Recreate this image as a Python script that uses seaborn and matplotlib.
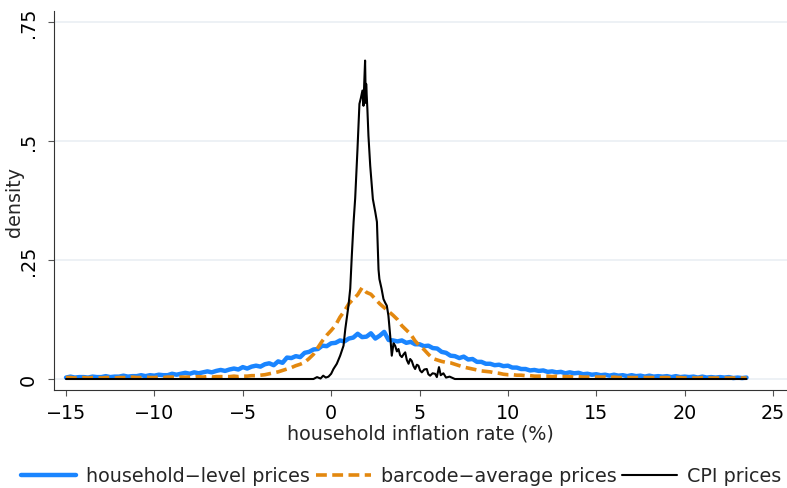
import numpy as np
import matplotlib
matplotlib.use("Agg")
import matplotlib.pyplot as plt
import seaborn as sns

# household-level prices, read at 0.25 steps from -15 to 23.5
household_start = -15.0
household_step = 0.25
household_density = [
    0.003, 0.005, 0.003, 0.004,   # -15
    0.004, 0.003, 0.005, 0.004,   # -14
    0.004, 0.006, 0.004, 0.005,   # -13
    0.005, 0.007, 0.005, 0.006,   # -12
    0.006, 0.008, 0.006, 0.008,   # -11
    0.007, 0.009, 0.008, 0.008,   # -10
    0.011, 0.009, 0.011, 0.013,   # -9
    0.011, 0.014, 0.012, 0.014,   # -8
    0.016, 0.014, 0.017, 0.019,   # -7
    0.017, 0.020, 0.022, 0.020,   # -6
    0.025, 0.022, 0.026, 0.028,   # -5
    0.026, 0.031, 0.033, 0.029,   # -4
    0.037, 0.034, 0.045, 0.044,   # -3
    0.048, 0.046, 0.055, 0.057,   # -2
    0.062, 0.063, 0.070, 0.069,   # -1
    0.075, 0.076, 0.081, 0.079,   # 0
    0.085, 0.087, 0.095, 0.088,   # 1
    0.089, 0.096, 0.085, 0.091,   # 2
    0.099, 0.082, 0.081, 0.079,   # 3
    0.081, 0.076, 0.078, 0.073,   # 4
    0.073, 0.069, 0.070, 0.065,   # 5
    0.064, 0.057, 0.055, 0.049,   # 6
    0.048, 0.044, 0.047, 0.041,   # 7
    0.042, 0.036, 0.036, 0.032,   # 8
    0.032, 0.029, 0.030, 0.027,   # 9
    0.028, 0.024, 0.024, 0.021,   # 10
    0.021, 0.018, 0.019, 0.017,   # 11
    0.018, 0.015, 0.016, 0.014,   # 12
    0.015, 0.012, 0.014, 0.012,   # 13
    0.013, 0.010, 0.011, 0.009,   # 14
    0.010, 0.008, 0.009, 0.007,   # 15
    0.009, 0.007, 0.008, 0.006,   # 16
    0.008, 0.006, 0.007, 0.005,   # 17
    0.007, 0.005, 0.006, 0.005,   # 18
    0.006, 0.004, 0.006, 0.004,   # 19
    0.005, 0.004, 0.005, 0.003,   # 20
    0.005, 0.003, 0.004, 0.003,   # 21
    0.004, 0.003, 0.004, 0.002,   # 22
    0.003, 0.002, 0.003,          # 23
]

# barcode-average prices, same grid
barcode_density = [
    0.003, 0.003, 0.002, 0.003,   # -15
    0.003, 0.002, 0.003, 0.003,   # -14
    0.002, 0.003, 0.003, 0.002,   # -13
    0.003, 0.003, 0.003, 0.004,   # -12
    0.003, 0.003, 0.004, 0.003,   # -11
    0.003, 0.004, 0.003, 0.004,   # -10
    0.004, 0.003, 0.004, 0.004,   # -9
    0.004, 0.004, 0.005, 0.004,   # -8
    0.005, 0.004, 0.005, 0.005,   # -7
    0.005, 0.005, 0.006, 0.005,   # -6
    0.006, 0.006, 0.007, 0.007,   # -5
    0.008, 0.009, 0.011, 0.013,   # -4
    0.015, 0.018, 0.021, 0.024,   # -3
    0.028, 0.031, 0.035, 0.043,   # -2
    0.052, 0.066, 0.080, 0.092,   # -1
    0.102, 0.113, 0.130, 0.143,   # 0
    0.158, 0.168, 0.177, 0.192,   # 1
    0.182, 0.178, 0.168, 0.158,   # 2
    0.150, 0.142, 0.134, 0.125,   # 3
    0.112, 0.103, 0.094, 0.080,   # 4
    0.070, 0.062, 0.052, 0.043,   # 5
    0.040, 0.037, 0.035, 0.034,   # 6
    0.031, 0.028, 0.025, 0.023,   # 7
    0.021, 0.019, 0.017, 0.016,   # 8
    0.015, 0.013, 0.012, 0.010,   # 9
    0.009, 0.009, 0.008, 0.008,   # 10
    0.007, 0.007, 0.006, 0.006,   # 11
    0.006, 0.006, 0.005, 0.006,   # 12
    0.005, 0.005, 0.005, 0.004,   # 13
    0.005, 0.004, 0.004, 0.004,   # 14
    0.004, 0.004, 0.004, 0.003,   # 15
    0.004, 0.003, 0.003, 0.003,   # 16
    0.003, 0.003, 0.003, 0.003,   # 17
    0.003, 0.003, 0.002, 0.003,   # 18
    0.003, 0.002, 0.003, 0.003,   # 19
    0.002, 0.003, 0.002, 0.002,   # 20
    0.003, 0.002, 0.002, 0.002,   # 21
    0.002, 0.002, 0.002, 0.002,   # 22
    0.002, 0.002, 0.002,          # 23
]

# CPI prices, irregular points around the peak
cpi_rate = [
    -15.0, -1.0, -0.8, -0.6, -0.45, -0.3, -0.15, 0.0, 0.13, 0.32,
    0.51, 0.7, 0.8, 0.98, 1.08, 1.17, 1.27, 1.36, 1.49, 1.6,
    1.68, 1.77, 1.83, 1.87, 1.92, 1.96, 1.98, 2.05, 2.11, 2.21,
    2.36, 2.5, 2.59, 2.68, 2.73, 2.85, 2.96, 3.06, 3.15, 3.24,
    3.34, 3.43, 3.53, 3.62, 3.72, 3.81, 3.9, 4.0, 4.1, 4.19,
    4.28, 4.38, 4.47, 4.56, 4.66, 4.75, 4.85, 4.94, 5.03, 5.13,
    5.27, 5.41, 5.5, 5.6, 5.74, 5.88, 5.98, 6.1, 6.2, 6.35,
    6.5, 6.7, 7.0, 23.5,
]
cpi_density = [
    0.0, 0.0, 0.004, 0.001, 0.007, 0.003, 0.005, 0.011, 0.021, 0.032,
    0.049, 0.070, 0.105, 0.154, 0.190, 0.260, 0.330, 0.380, 0.483, 0.578,
    0.590, 0.606, 0.574, 0.620, 0.669, 0.580, 0.620, 0.567, 0.511, 0.448,
    0.378, 0.350, 0.330, 0.230, 0.210, 0.190, 0.168, 0.160, 0.154, 0.133,
    0.091, 0.049, 0.075, 0.070, 0.058, 0.063, 0.050, 0.046, 0.052, 0.056,
    0.040, 0.032, 0.042, 0.038, 0.027, 0.021, 0.030, 0.028, 0.018, 0.014,
    0.020, 0.021, 0.010, 0.007, 0.012, 0.011, 0.004, 0.025, 0.008, 0.012,
    0.003, 0.005, 0.0, 0.0,
]

x_ticks = [-15, -10, -5, 0, 5, 10, 15, 20, 25]
y_ticks = [0, 0.25, 0.5, 0.75]
y_tick_labels = ["0", ".25", ".5", ".75"]

BLUE = "#1a85ff"
ORANGE = "#e3880f"
FS = 13.8

sns.set_theme(style="white")
plt.rcParams["font.family"] = ["DejaVu Sans"]

grid_x = household_start + household_step * np.arange(len(household_density))

fig = plt.figure(figsize=(7.87, 4.89), dpi=100)
ax = fig.add_axes([54 / 787, 1 - 391 / 489, 733 / 787, 379 / 489])

sns.lineplot(x=grid_x, y=household_density, ax=ax, color=BLUE, lw=3.2,
             label="household\u2212level prices")
sns.lineplot(x=grid_x[:len(barcode_density)], y=barcode_density, ax=ax, color=ORANGE,
             lw=2.6, linestyle=(0, (3, 1.5)), label="barcode\u2212average prices")
sns.lineplot(x=cpi_rate, y=cpi_density, ax=ax, color="black", lw=1.5,
             label="CPI prices")

ax.set_xlim(-15.68, 25.79)
ax.set_ylim(-0.0231, 0.7731)
ax.set_xticks(x_ticks)
ax.set_yticks(y_ticks)
ax.set_yticklabels(y_tick_labels, rotation=90, va="center")
ax.grid(axis="y", color="#eaeff3", lw=1.2)
ax.grid(axis="x", visible=False)
ax.set_axisbelow(True)

for side in ["top", "right"]:
    ax.spines[side].set_visible(False)
for side in ["left", "bottom"]:
    ax.spines[side].set_color("#333333")
    ax.spines[side].set_linewidth(0.8)

ax.tick_params(axis="both", direction="out", length=4.3, width=0.8, color="#555555",
               labelsize=FS, labelcolor="black", left=True, bottom=True)
ax.tick_params(axis="x", pad=5)
ax.tick_params(axis="y", pad=7.5)

ax.set_xlabel("household inflation rate (%)", fontsize=FS, va="top")
ax.xaxis.set_label_coords(0.5, (391 - 425) / 379)
ax.set_ylabel("density", fontsize=FS)
ax.yaxis.set_label_coords((24 - 54) / 733, 0.5)

handles, labels = ax.get_legend_handles_labels()
ax.get_legend().remove()
fig.legend(handles, labels, loc="center", bbox_to_anchor=(0.51, 1 - 477 / 489), ncol=3,
           frameon=False, fontsize=FS, handlelength=2.86, handletextpad=0.52,
           columnspacing=0.31, borderaxespad=0, borderpad=0)

fig.savefig("out.png", dpi=100)
